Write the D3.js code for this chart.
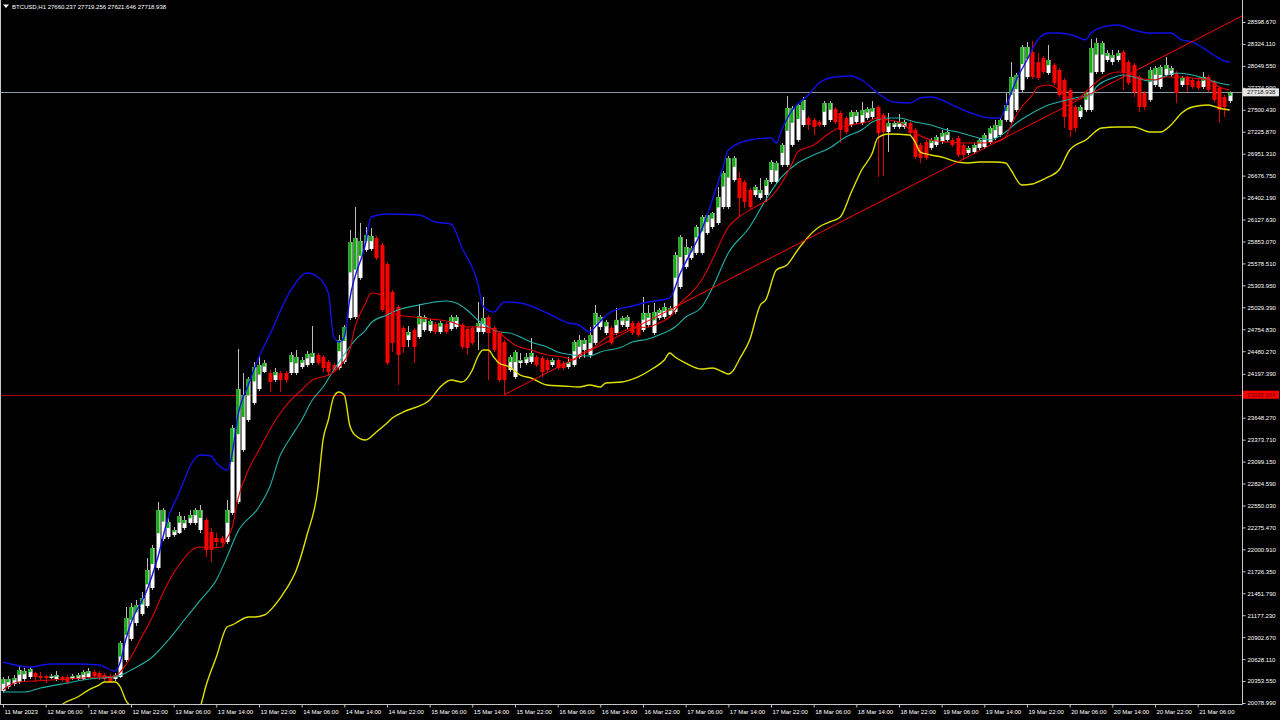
<!DOCTYPE html>
<html><head><meta charset="utf-8">
<script src="https://cdn.jsdelivr.net/npm/d3@7"></script>
<style>html,body{margin:0;padding:0;background:#000;overflow:hidden}svg{display:block}
text{font-family:"Liberation Sans",Arial,sans-serif;font-size:6px;fill:#fff}</style>
</head><body><svg id="c" width="1280" height="720"></svg>
<script>
// ---------- DATA (BTCUSD H1, bar 0 = 11 Mar 2023 22:00) ----------
const open = [20229,20279,20317,20342,20379,20404,20454,20417,20417,20392,20379,20404,20404,20379,20379,20379,20404,20467,20454,20429,20417,20379,20404,20617,20880,21080,21192,21292,21518,21768,22131,22156,22181,22206,22268,22331,22331,22243,22368,22218,22143,22143,22093,22456,22594,23244,23619,23832,24007,24220,24207,24120,24207,24207,24207,24207,24282,24307,24332,24433,24408,24345,24307,24270,24345,24896,24908,25396,25746,25759,25896,25809,25571,25221,25033,24771,24620,24745,24658,24745,24733,24821,24720,24821,24758,24783,24808,24758,24771,24720,24720,24908,24771,24708,24595,24245,24157,24332,24332,24345,24408,24395,24370,24307,24370,24332,24282,24307,24408,24495,24433,24583,24783,24708,24771,24708,24808,24783,24833,24833,24745,24808,24708,24896,24908,24933,24971,25283,25534,25646,25709,25709,25959,26034,26084,26284,26284,26622,26647,26597,26497,26434,26397,26434,26597,26597,26810,26810,27060,27123,27310,27398,27373,27348,27310,27373,27510,27460,27398,27310,27348,27335,27398,27410,27535,27435,27223,27285,27285,27285,27335,27248,27060,27098,27023,27060,27098,27123,27123,27148,27060,26960,26972,27023,27035,27098,27148,27185,27373,27348,27498,27748,27911,28223,28098,28148,27961,28061,27998,27873,27748,27535,27410,27498,27498,27973,27973,28123,28098,28123,28223,28098,28061,27911,27710,27623,27811,27786,27936,27936,27961,27811,27898,27873,27861,27786,27911,27848,27773,27660,27610];
const high = [20404,20417,20429,20542,20517,20529,20467,20467,20429,20442,20479,20417,20429,20442,20454,20492,20517,20492,20479,20454,20442,20454,20854,21280,21330,21367,21468,21893,22056,22594,22518,22393,22281,22468,22418,22493,22518,22556,22393,22268,22206,22168,22619,23557,24508,24207,24157,24345,24408,24370,24245,24270,24232,24232,24470,24495,24408,24483,24795,24458,24433,24370,24332,24683,24808,25997,26284,26084,26034,26022,25921,25834,25596,25246,25058,24795,24795,24771,25071,24933,24883,24846,24858,24846,24933,24933,24833,24783,24795,25096,25158,24933,24795,24733,24620,24433,24495,24458,24458,24645,24433,24420,24395,24395,24395,24357,24408,24620,24683,24645,24783,25058,24933,24871,24795,25021,24921,24933,24858,24858,25158,25058,25083,25021,25083,25046,25721,25934,25884,25796,26059,26184,26209,26222,26534,26735,26922,26922,26722,26622,26522,26559,26647,26647,26872,26860,27085,27673,27548,27585,27661,27423,27398,27373,27610,27610,27535,27485,27423,27498,27498,27598,27535,27610,27560,27460,27460,27360,27448,27373,27360,27273,27085,27123,27148,27185,27248,27273,27148,27173,27085,27047,27085,27148,27210,27298,27373,27398,27710,28098,27961,28311,28349,28361,28211,28173,28311,28086,28023,27898,27773,27560,27560,27736,28386,28399,28361,28249,28249,28249,28249,28123,28086,27936,27736,28036,28048,28061,28161,28048,27986,27923,27923,27898,27886,27973,27936,27873,27798,27685,27730];
const low = [20204,20254,20291,20317,20354,20379,20342,20367,20329,20379,20354,20342,20317,20367,20367,20367,20392,20392,20367,20354,20329,20354,20392,20592,20854,21042,21167,21267,21493,21743,22106,22131,22156,22193,22243,22306,22306,22206,21906,21843,22031,22056,22068,22431,22569,23219,23594,23807,23982,24207,23970,24095,23970,24082,24182,24182,24257,24282,24307,24307,24220,24170,24220,24245,24320,24871,24883,25371,25721,25734,25621,24971,24307,24470,24057,24458,24533,24332,24633,24720,24708,24695,24695,24695,24733,24758,24508,24433,24558,24495,24695,24120,24470,24095,23936,24220,24132,24270,24307,24320,24282,24157,24207,24282,24245,24245,24257,24282,24383,24395,24395,24558,24745,24683,24558,24683,24783,24758,24683,24658,24720,24783,24683,24871,24883,24908,24946,25258,25509,25621,25684,25684,25934,26009,26059,26259,26259,26597,26159,26272,26259,26409,26372,26347,26572,26572,26785,26785,27035,27098,27285,27248,27185,27285,27285,27348,27323,27085,27198,27285,27323,27310,27373,27385,26660,26672,26972,27260,27260,27260,27185,26885,26835,26872,26997,27035,27073,27098,27035,26910,26872,26935,26947,26997,27010,27073,27123,27160,27348,27323,27473,27723,27886,27886,27873,27948,27936,27811,27660,27273,27160,27223,27385,27473,27473,27948,27948,28098,28061,28098,27748,27811,27660,27473,27498,27598,27786,27761,27911,27911,27585,27786,27723,27761,27748,27761,27723,27598,27335,27410,27585];
const close = [20379,20379,20392,20492,20479,20504,20404,20392,20392,20417,20429,20367,20342,20417,20429,20467,20479,20417,20404,20379,20342,20429,20829,21142,21280,21305,21392,21743,22018,22493,22493,22343,22243,22418,22368,22431,22493,22493,21993,21993,22093,22081,22493,23519,24007,23932,24132,24282,24307,24332,24095,24220,24120,24120,24433,24408,24370,24445,24458,24332,24270,24220,24245,24620,24783,25846,25896,25859,25934,25921,25646,24996,24332,24583,24433,24533,24720,24533,24921,24908,24858,24720,24833,24720,24908,24908,24533,24520,24583,24833,24896,24708,24495,24120,24120,24408,24470,24370,24408,24458,24307,24220,24245,24370,24270,24270,24345,24595,24620,24620,24683,24958,24908,24846,24583,24871,24896,24908,24708,24683,24958,24958,24971,24996,25033,25021,25684,25909,25784,25771,26034,26159,26184,26209,26409,26710,26897,26897,26397,26347,26284,26534,26497,26622,26847,26835,27060,27523,27523,27560,27623,27310,27285,27310,27585,27585,27348,27248,27223,27473,27473,27498,27510,27523,27210,27223,27335,27335,27348,27348,27210,26910,26897,26897,27123,27160,27210,27223,27060,26935,26935,27022,27060,27123,27185,27273,27310,27373,27560,27911,27936,28286,28286,27911,27898,27973,28123,27836,27685,27410,27248,27273,27535,27710,28274,28336,28336,28211,28186,28211,27961,27836,27723,27535,27535,27998,28023,28036,28061,28023,27710,27898,27811,27786,27773,27911,27748,27623,27498,27535,27718.938];

// indicator lines: [bar index, price]
const upperBand = [[0,20592],[5,20529],[9,20567],[14,20567],[18,20554],[21,20479],[22,20592],[23,20867],[24,21080],[27,21493],[29,21893],[31,22406],[33,22706],[34,22869],[35,23031],[37,23181],[39,23169],[40,23081],[42,22994],[43,23206],[44,23657],[46,24057],[48,24408],[50,24683],[54,25246],[57,25458],[59,25408],[61,25208],[62,24658],[63,24595],[64,24658],[65,25121],[68,25834],[69,26159],[72,26197],[78,26184],[81,26097],[84,26072],[86,25784],[89,25333],[90,25046],[92,24971],[94,25096],[97,25083],[102,24958],[106,24833],[108,24808],[110,24720],[111,24783],[114,24971],[118,25046],[121,25096],[125,25146],[127,25458],[131,25997],[135,26785],[136,26997],[140,27123],[144,27148],[145,27085],[146,27248],[148,27498],[151,27685],[153,27836],[156,27911],[159,27923],[161,27873],[164,27710],[167,27598],[170,27585],[172,27648],[174,27661],[178,27560],[181,27473],[185,27398],[187,27398],[188,27535],[190,27873],[192,28123],[194,28374],[196,28461],[198,28461],[201,28424],[203,28374],[204,28461],[207,28549],[209,28561],[212,28499],[215,28461],[217,28461],[219,28461],[221,28374],[223,28349],[225,28274],[227,28186],[229,28111],[230,28098]];
const lowerBand = [[10,19966],[11,20054],[14,20154],[16,20241],[18,20304],[19,20342],[21,20342],[22,20279],[23,20116],[24,20028],[26,19804],[35,19804],[37,20028],[38,20279],[40,20654],[42,21030],[43,21055],[44,21093],[46,21155],[47,21155],[49,21180],[51,21305],[53,21493],[55,21743],[57,22181],[59,22744],[60,23369],[61,23619],[62,23907],[63,23970],[64,23932],[65,23557],[66,23432],[68,23369],[70,23469],[72,23582],[73,23644],[75,23719],[80,23870],[82,24032],[84,24120],[86,24095],[88,24245],[89,24408],[90,24495],[91,24495],[92,24408],[93,24332],[95,24282],[97,24182],[99,24145],[102,24057],[105,24045],[108,24032],[110,24057],[112,24032],[113,24082],[116,24095],[119,24157],[122,24270],[124,24370],[125,24458],[126,24408],[128,24332],[131,24257],[133,24270],[135,24220],[136,24195],[137,24245],[138,24370],[140,24620],[142,25058],[143,25121],[145,25496],[147,25559],[149,25746],[150,25834],[153,26034],[155,26097],[157,26159],[159,26459],[161,26747],[163,26960],[164,27148],[166,27198],[170,27185],[171,27098],[172,26972],[174,26935],[176,26910],[179,26847],[181,26835],[183,26847],[186,26847],[188,26835],[189,26747],[191,26560],[193,26572],[194,26597],[196,26660],[198,26747],[200,26997],[203,27123],[206,27273],[209,27285],[212,27285],[215,27223],[217,27223],[219,27310],[221,27460],[223,27535],[226,27560],[228,27523],[230,27498]];
const fastMA = [[0,20241],[1,20291],[3,20342],[6,20354],[9,20367],[12,20379],[15,20392],[18,20404],[21,20417],[22,20467],[23,20554],[24,20654],[26,20904],[28,21155],[30,21455],[32,21705],[34,21893],[36,22018],[37,22031],[39,22018],[41,22031],[42,22143],[43,22281],[44,22619],[46,22994],[48,23244],[50,23494],[52,23707],[54,23870],[56,23995],[58,24120],[61,24182],[62,24220],[63,24282],[65,24495],[66,24783],[68,25083],[69,25208],[71,25183],[72,25033],[73,24971],[74,24934],[77,24908],[80,24883],[82,24871],[84,24846],[87,24783],[89,24783],[91,24771],[93,24720],[94,24658],[96,24558],[99,24495],[102,24433],[105,24408],[107,24370],[108,24433],[111,24533],[113,24645],[116,24720],[118,24771],[121,24783],[123,24833],[125,24908],[127,25083],[129,25208],[131,25371],[133,25621],[136,26034],[138,26159],[141,26284],[144,26409],[146,26584],[148,26835],[149,26972],[152,27060],[155,27210],[157,27285],[159,27310],[162,27348],[164,27398],[166,27373],[168,27348],[171,27210],[174,27123],[177,27098],[180,27085],[183,27085],[186,27098],[188,27160],[189,27310],[191,27535],[193,27685],[194,27786],[196,27811],[198,27748],[199,27685],[201,27623],[202,27661],[204,27786],[206,27898],[209,27973],[211,27961],[213,27898],[216,27873],[218,27911],[221,27911],[223,27898],[226,27873],[228,27786],[230,27748]];
const midMA = [[0,20216],[4,20216],[7,20266],[12,20329],[15,20367],[18,20392],[21,20404],[23,20454],[24,20492],[28,20654],[31,20867],[34,21117],[37,21367],[40,21618],[42,21906],[44,22218],[48,22531],[50,22781],[52,23181],[54,23407],[56,23619],[58,23870],[60,24032],[62,24245],[65,24533],[66,24620],[68,24745],[69,24833],[72,24934],[74,24996],[78,25058],[81,25096],[83,25108],[85,25083],[87,24996],[89,24871],[91,24783],[93,24720],[95,24708],[97,24658],[99,24595],[102,24533],[104,24470],[107,24433],[110,24420],[112,24470],[116,24533],[118,24595],[121,24633],[123,24683],[126,24783],[128,24908],[131,25033],[133,25271],[136,25709],[140,26034],[143,26372],[146,26660],[149,26835],[152,26935],[155,27023],[158,27160],[161,27248],[163,27348],[166,27398],[168,27398],[171,27348],[174,27310],[177,27248],[179,27223],[183,27148],[185,27123],[188,27223],[190,27335],[193,27460],[196,27560],[198,27598],[201,27648],[204,27685],[205,27786],[208,27898],[210,27936],[212,27911],[215,27861],[217,27898],[220,27961],[223,27936],[225,27898],[228,27836],[230,27811]];
const trendAnchors = [[94,23936],[200,27567]];

const priceTicks = [20078.990,20353.550,20628.110,20902.670,21177.230,21451.790,21726.350,22000.910,22275.470,22550.030,22824.590,23099.150,23373.710,23648.270,24197.390,24480.270,24754.830,25029.390,25303.950,25578.510,25853.070,26127.630,26402.190,26676.750,26951.310,27225.870,27500.430,27774.990,28049.550,28324.110,28598.670];
const timeTickBars = [0,8,16,24,32,40,48,56,64,72,80,88,96,104,112,120,128,136,144,152,160,168,176,184,192,200,208,216,224];
const timeTickLabels = ["11 Mar 2023","12 Mar 06:00","12 Mar 14:00","12 Mar 22:00","13 Mar 06:00","13 Mar 14:00","13 Mar 22:00","14 Mar 06:00","14 Mar 14:00","14 Mar 22:00","15 Mar 06:00","15 Mar 14:00","15 Mar 22:00","16 Mar 06:00","16 Mar 14:00","16 Mar 22:00","17 Mar 06:00","17 Mar 14:00","17 Mar 22:00","18 Mar 06:00","18 Mar 14:00","18 Mar 22:00","19 Mar 06:00","19 Mar 14:00","19 Mar 22:00","20 Mar 06:00","20 Mar 14:00","20 Mar 22:00","21 Mar 06:00"];
const titleText = "BTCUSD,H1  27660.237 27719.256 27621.646 27718.938";
const bidPrice = 27718.938;
const levelPrice = 23935.954;

// ---------- LAYOUT ----------
const plotRight = 1242, plotBottom = 704;
const svg = d3.select("#c");
svg.append("rect").attr("width",1280).attr("height",720).attr("fill","#000");
const x = d3.scaleLinear().domain([0,230]).range([3, 3 + 230*16/3]);
const y = d3.scaleLinear().domain([20078.99, 28598.67]).range([703, 22]);

svg.append("defs").append("clipPath").attr("id","plot")
  .append("rect").attr("x",0).attr("y",0).attr("width",plotRight).attr("height",plotBottom);
const g = svg.append("g").attr("clip-path","url(#plot)");

const bars = d3.range(open.length).map(i => ({i, o:open[i], h:high[i], l:low[i], c:close[i]}));

// horizontal level lines
g.append("line").attr("x1",0).attr("x2",plotRight).attr("y1",Math.round(y(levelPrice))+0.5).attr("y2",Math.round(y(levelPrice))+0.5)
  .attr("stroke","#b00000").attr("stroke-width",1);
g.append("line").attr("x1",0).attr("x2",plotRight).attr("y1",Math.round(y(bidPrice))+0.5).attr("y2",Math.round(y(bidPrice))+0.5)
  .attr("stroke","#8a98a8").attr("stroke-width",1);

// candles
const cg = g.append("g");
cg.selectAll("line.w").data(bars).join("line").attr("class","w")
  .attr("x1",d=>Math.round(x(d.i))+0.5).attr("x2",d=>Math.round(x(d.i))+0.5)
  .attr("y1",d=>y(d.h)).attr("y2",d=>y(d.l))
  .attr("stroke",d=>d.c>=d.o?"#bdbdbd":"#e00000").attr("stroke-width",1);
cg.selectAll("rect.b").data(bars).join("rect").attr("class","b")
  .attr("x",d=>Math.round(x(d.i))-1.5).attr("width",4)
  .attr("y",d=>y(Math.max(d.o,d.c)))
  .attr("height",d=>Math.max(1.5,Math.abs(y(d.o)-y(d.c))))
  .attr("fill",d=>d.c>=d.o?"#ffffff":"#ff0000");
// green portion of bullish bars (upper part of body)
cg.selectAll("rect.gp").data(bars.filter(d=>d.c>=d.o)).join("rect").attr("class","gp")
  .attr("x",d=>Math.round(x(d.i))-1.5).attr("width",3)
  .attr("y",d=>y(d.c))
  .attr("height",d=>Math.max(1,0.4*Math.abs(y(d.o)-y(d.c))))
  .attr("fill","#10b010");

// indicator lines
const line = d3.line().x(d=>x(d[0])).y(d=>y(d[1])).curve(d3.curveMonotoneX);
g.append("path").datum(midMA).attr("d",line).attr("fill","none").attr("stroke","#20b2aa").attr("stroke-width",1.1);
g.append("path").datum(fastMA).attr("d",line).attr("fill","none").attr("stroke","#e00000").attr("stroke-width",1.1);
g.append("path").datum(upperBand).attr("d",line).attr("fill","none").attr("stroke","#1010e8").attr("stroke-width",1.4);
g.append("path").datum(lowerBand).attr("d",line).attr("fill","none").attr("stroke","#e0e000").attr("stroke-width",1.4);

// trend line (ray to the right edge)
const [a,b] = trendAnchors;
const slope = (b[1]-a[1])/(b[0]-a[0]);
const endBar = x.invert(plotRight+5);
g.append("line").attr("x1",x(a[0])).attr("y1",y(a[1]))
  .attr("x2",x(endBar)).attr("y2",y(a[1]+slope*(endBar-a[0])))
  .attr("stroke","#ff0000").attr("stroke-width",1);

// frame
svg.append("line").attr("x1",0.5).attr("x2",0.5).attr("y1",0).attr("y2",plotBottom+0.5).attr("stroke","#c8c8c8");
svg.append("line").attr("x1",0).attr("x2",plotRight+0.5).attr("y1",plotBottom+0.5).attr("y2",plotBottom+0.5).attr("stroke","#c8c8c8");
svg.append("line").attr("x1",plotRight+0.5).attr("x2",plotRight+0.5).attr("y1",0).attr("y2",plotBottom+0.5).attr("stroke","#c8c8c8");

// right price axis
const ya = svg.append("g").attr("transform",`translate(${plotRight+0.5},0)`)
  .call(d3.axisRight(y).tickValues(priceTicks).tickSize(3).tickPadding(2).tickFormat(d3.format(".3f")));
ya.select(".domain").remove();
ya.selectAll(".tick line").attr("stroke","#c8c8c8");
ya.selectAll(".tick text").attr("fill","#fff").style("font-size","6px").style("font-family","Liberation Sans, Arial, sans-serif");

// bottom time axis
const xa = svg.append("g").attr("transform",`translate(0,${plotBottom+0.5})`)
  .call(d3.axisBottom(x).tickValues(timeTickBars).tickSize(3).tickPadding(2).tickFormat((d,i)=>timeTickLabels[i]));
xa.select(".domain").remove();
xa.selectAll(".tick line").attr("stroke","#c8c8c8");
xa.selectAll(".tick text").attr("fill","#fff").attr("text-anchor","start").attr("dx",1)
  .style("font-size","6px").style("font-family","Liberation Sans, Arial, sans-serif");

// price labels
function priceBox(p, fill, textFill){
  const yy = y(p);
  svg.append("rect").attr("x",plotRight+1).attr("y",yy-4).attr("width",36).attr("height",8).attr("fill",fill);
  svg.append("text").attr("x",plotRight+5).attr("y",yy).attr("dy","0.35em").attr("fill",textFill)
    .style("fill",textFill).text(d3.format(".3f")(p));
}
priceBox(bidPrice,"#e4e4e4","#202020");
priceBox(levelPrice,"#ff0000","#600000");

// title
svg.append("path").attr("d","M3,4.5 L9,4.5 L6,8 Z").attr("fill","#fff");
svg.append("text").attr("x",12).attr("y",9).text(titleText);
</script></body></html>
